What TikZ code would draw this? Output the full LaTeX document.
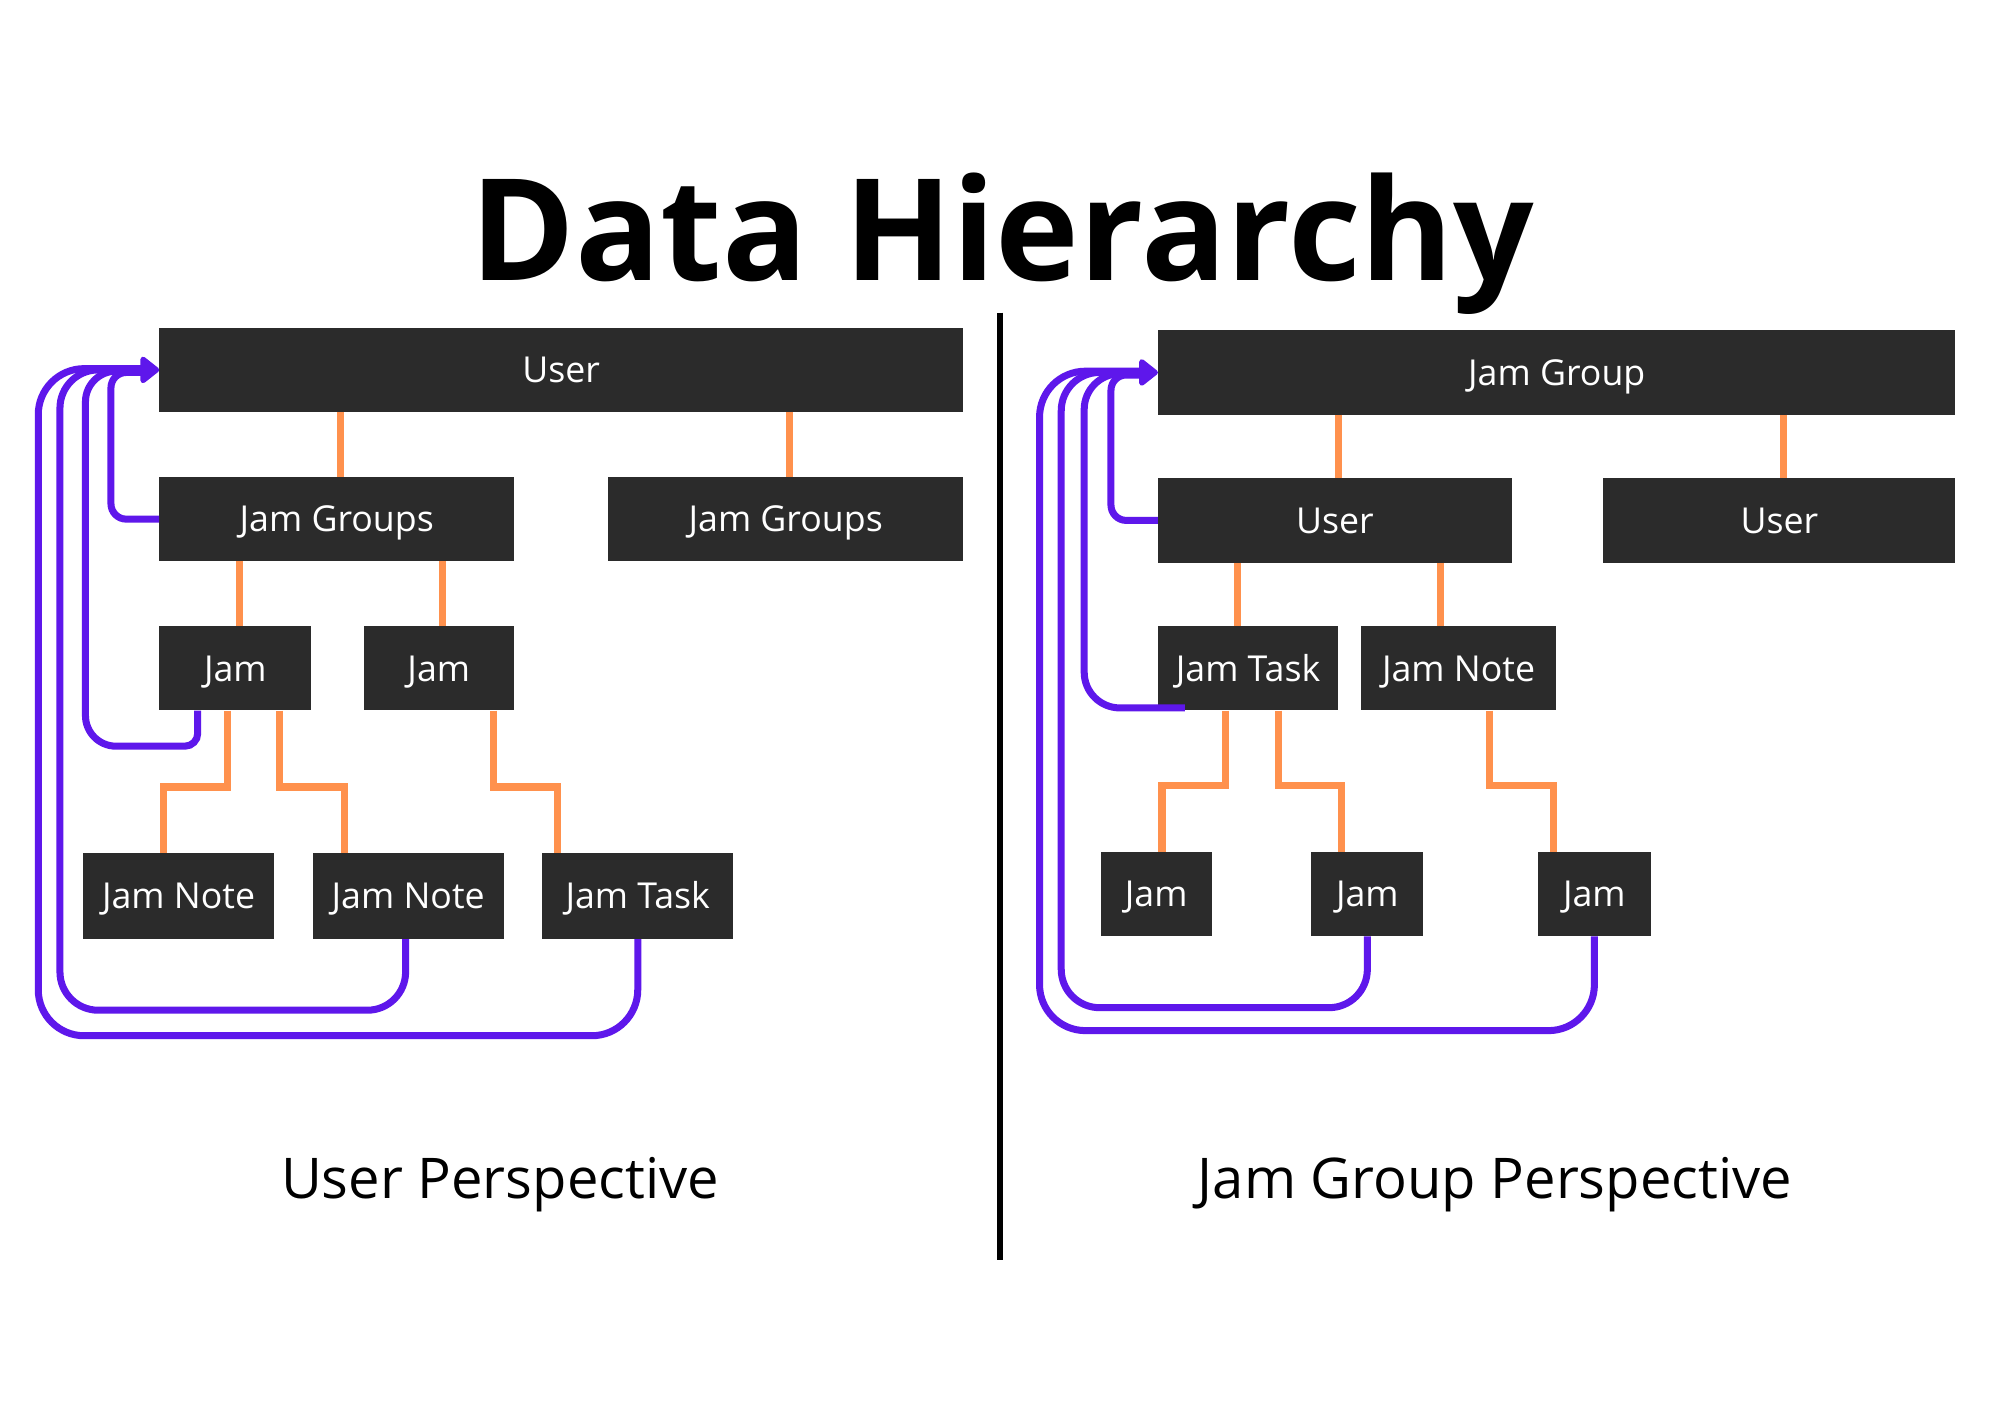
\documentclass[tikz,border=0pt]{standalone}
\usepackage{fontspec}
\setmainfont{Open Sans}
\usetikzlibrary{arrows.meta,calc}
\definecolor{boxc}{HTML}{2B2B2B}
\definecolor{org}{HTML}{FF914D}
\definecolor{pur}{HTML}{5E17EB}
\begin{document}
\begin{tikzpicture}[x=1pt,y=-1pt,
  hbox/.style={fill=boxc, text=white, inner sep=0pt, minimum height=66pt,
    font=\fontsize{28}{32}\selectfont, text height=20pt, text depth=0pt},
  oline/.style={draw=org, line width=5.5pt},
  ploop/.style={draw=pur, line width=5.5pt},
  parrow/.style={draw=pur, fill=pur, line width=5.5pt, -{Triangle[length=16pt,width=24pt,round]}},
  ttl/.style={font=\fontsize{111}{120}\selectfont\bfseries, anchor=base},
  lbl/.style={font=\fontsize{44}{50}\selectfont, anchor=base},
]
\fill[white] (0,0) rectangle (1568,1098);
\useasboundingbox (0,0) rectangle (1568,1098);

% title and labels
\node[ttl] (title) at (786,220) {Data Hierarchy};
\node[lbl] (lpersp) at (392,940) {User Perspective};
\node[lbl] (rpersp) at (1172,940) {Jam Group Perspective};
\coordinate (dtop) at (784,245);
\coordinate (dbot) at (784,988);
\draw[line width=4.5pt] (dtop) -- (dbot);

% ---------- left: user perspective ----------
\node[hbox, minimum width=630pt] (U) at (440,290) {User};
\node[hbox, minimum width=278pt] (GL) at (264,407) {Jam Groups};
\node[hbox, minimum width=278pt] (GR) at (616,407) {Jam Groups};
\node[hbox, minimum width=119pt] (JA) at (184.5,524) {Jam};
\node[hbox, minimum width=118pt] (JB) at (344,524) {Jam};
\node[hbox, minimum width=150pt, minimum height=67pt] (N1) at (140,702.5) {Jam Note};
\node[hbox, minimum width=150pt, minimum height=67pt] (N2) at (320,702.5) {Jam Note};
\node[hbox, minimum width=150pt, minimum height=67pt] (T1) at (500,702.5) {Jam Task};

\draw[oline] (267,0 |- U.south) -- (267,0 |- GL.north);
\draw[oline] (619,0 |- U.south) -- (619,0 |- GR.north);
\draw[oline] (188,0 |- GL.south) -- (188,0 |- JA.north);
\draw[oline] (347,0 |- GL.south) -- (347,0 |- JB.north);
\draw[oline] (178,0 |- JA.south) |- (128,617) -- (128,0 |- N1.north);
\draw[oline] (219,0 |- JA.south) |- (270,617) -- (270,0 |- N2.north);
\draw[oline] (387,0 |- JB.south) |- (437,617) -- (437,0 |- T1.north);

\draw[ploop, rounded corners=12pt] (GL.west) -- (87,407) -- (87,292) -- (112,292);
\draw[ploop, rounded corners=10pt] (155,0 |- JA.south) -- (155,585) [rounded corners=24pt] -- (67,585) -- (67,291) -- (112,291);
\draw[ploop, rounded corners=30pt] (318,0 |- N2.south) -- (318,792) -- (47,792) -- (47,290) -- (112,290);
\draw[ploop, rounded corners=36pt] (500,0 |- T1.south) -- (500,812) -- (30,812) -- (30,289) -- (112,289);
\draw[parrow] (100,290) -- (U.west);

% ---------- right: jam group perspective ----------
\node[hbox, minimum width=625pt] (G) at (1220.5,292) {Jam Group};
\node[hbox, minimum width=277pt] (R1) at (1046.5,408) {User};
\node[hbox, minimum width=276pt] (R2) at (1395,408) {User};
\node[hbox, minimum width=141pt] (RT) at (978.5,524) {Jam Task};
\node[hbox, minimum width=153pt] (RN) at (1143.5,524) {Jam Note};
\node[hbox, minimum width=87pt] (J1) at (906.5,701) {Jam};
\node[hbox, minimum width=88pt] (J2) at (1072,701) {Jam};
\node[hbox, minimum width=88pt] (J3) at (1250,701) {Jam};

\draw[oline] (1049,0 |- G.south) -- (1049,0 |- R1.north);
\draw[oline] (1398,0 |- G.south) -- (1398,0 |- R2.north);
\draw[oline] (970,0 |- R1.south) -- (970,0 |- RT.north);
\draw[oline] (1129,0 |- R1.south) -- (1129,0 |- RN.north);
\draw[oline] (961,0 |- RT.south) |- (911,616) -- (911,0 |- J1.north);
\draw[oline] (1002,0 |- RT.south) |- (1052,616) -- (1052,0 |- J2.north);
\draw[oline] (1168,0 |- RN.south) |- (1218,616) -- (1218,0 |- J3.north);

\draw[ploop, rounded corners=12pt] (R1.west) -- (871,408) -- (871,294) -- (895,294);
\draw[ploop, rounded corners=28pt] (929,555) -- (850,555) -- (850,293) -- (895,293);
\draw[ploop, rounded corners=30pt] (1072,0 |- J2.south) -- (1072,790) -- (832,790) -- (832,292) -- (895,292);
\draw[ploop, rounded corners=36pt] (1250,0 |- J3.south) -- (1250,808) -- (815,808) -- (815,291) -- (895,291);
\draw[parrow] (883,292) -- (G.west);
\end{tikzpicture}
\end{document}
